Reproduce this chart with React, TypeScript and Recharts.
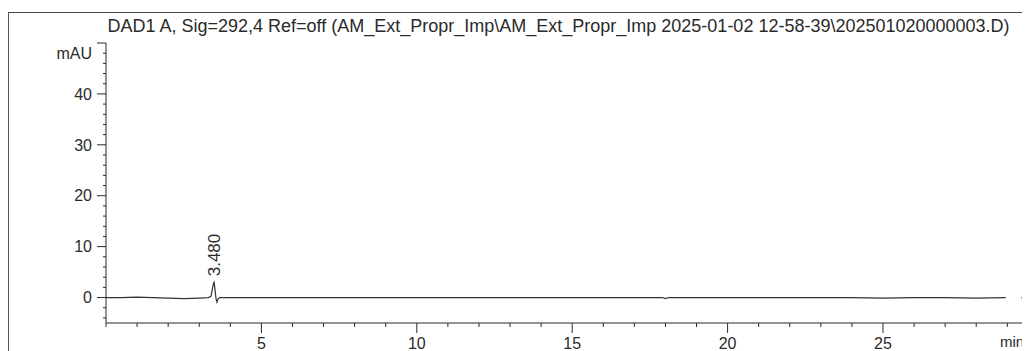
import React from "react";
import { ComposedChart, Line, XAxis, YAxis } from "recharts";

const title =
  "DAD1 A, Sig=292,4 Ref=off (AM_Ext_Propr_Imp\\AM_Ext_Propr_Imp 2025-01-02 12-58-39\\202501020000003.D)";

const time = [
  0, 0.5, 1.0, 1.5, 2.0, 2.5, 3.0, 3.3, 3.38, 3.42, 3.46, 3.48, 3.51, 3.54, 3.57, 3.6, 3.66, 4.0,
  5.0, 6.0, 8.0, 10.0, 12.0, 14.0, 16.0, 17.9, 18.0, 18.1, 20.0, 22.0, 24.0, 25.0, 26.0, 27.0,
  28.0, 28.95, 29.2, 29.45, 29.73,
];
const signal: (number | null)[] = [
  0, 0, 0.1, 0.0, -0.1, -0.2, -0.1, 0, 0.3, 1.6, 2.8, 3.0, 1.4, -0.2, -0.9, -0.3, 0, 0, 0, 0,
  0, 0, 0, 0, 0, 0, -0.2, 0, 0, 0, 0, -0.1, 0, 0, -0.1, 0, null, 0, 0,
];

const peakTimes = [3.48];
const peakLabels = ["3.480"];

const xTicks = [0, 1, 2, 3, 4, 5, 6, 7, 8, 9, 10, 11, 12, 13, 14, 15, 16, 17, 18, 19, 20, 21, 22, 23, 24, 25, 26, 27, 28, 29];
const xLabelTicks = [5, 10, 15, 20, 25];
const yTicks = [-4, -2, 0, 2, 4, 6, 8, 10, 12, 14, 16, 18, 20, 22, 24, 26, 28, 30, 32, 34, 36, 38, 40, 42, 44, 46, 48, 50];
const yLabelTicks = [0, 10, 20, 30, 40];
const yUnitTick = 48;
const yUnit = "mAU";
const xUnit = "min";

const rows = time.map((t, i) => ({ t, v: signal[i] }));

const FONT = "'Liberation Sans', Arial, sans-serif";
const INK = "#2a2a2a";

const XTick = (props: any) => {
  const { x, y, payload } = props;
  const major = xLabelTicks.includes(payload.value);
  return (
    <g>
      <line x1={x} y1={y} x2={x} y2={y + (major ? 10 : 4)} stroke={INK} strokeWidth={1} />
      {major && (
        <text x={x} y={y + 26} textAnchor="middle" fontSize={16} fontFamily={FONT} fill={INK}>
          {payload.value}
        </text>
      )}
    </g>
  );
};

const YTick = (props: any) => {
  const { x, y, payload } = props;
  const major = yLabelTicks.includes(payload.value) || payload.value === 50;
  const isUnit = payload.value === yUnitTick;
  const label = yLabelTicks.includes(payload.value) ? String(payload.value) : isUnit ? yUnit : null;
  return (
    <g>
      <line x1={x} y1={y} x2={x - (major ? 9 : 3)} y2={y} stroke={INK} strokeWidth={1} />
      {label && (
        <text x={x - 14} y={y} dy="0.36em" textAnchor="end" fontSize={16} fontFamily={FONT} fill={INK}>
          {label}
        </text>
      )}
    </g>
  );
};

const PeakLabel = (props: any) => {
  const { x, y, index } = props;
  const k = peakTimes.indexOf(time[index]);
  if (k < 0) return null;
  return (
    <text
      x={x}
      y={y - 6}
      transform={`rotate(-90 ${x} ${y - 6})`}
      dy="0.36em"
      textAnchor="start"
      fontSize={17}
      fontFamily={FONT}
      fill={INK}
    >
      {peakLabels[k]}
    </text>
  );
};

export default function App() {
  return (
    <div style={{ position: "relative", width: 1022, height: 343, background: "#fff", overflow: "hidden" }}>
      <div style={{ position: "absolute", left: 0, top: 4, width: 1022, height: 1, background: "#444" }} />
      <div style={{ position: "absolute", left: 0, top: 4, width: 1, height: 339, background: "#555" }} />
      <ComposedChart
        width={1022}
        height={343}
        data={rows}
        margin={{ top: 35, right: 0, bottom: 0, left: 0 }}
      >
        <XAxis
          dataKey="t"
          type="number"
          domain={[0, 29.73]}
          ticks={xTicks}
          interval={0}
          allowDataOverflow
          height={28}
          tickSize={0}
          tickMargin={0}
          tickLine={false}
          axisLine={{ stroke: INK, strokeWidth: 1.2 }}
          tick={<XTick />}
        />
        <YAxis
          type="number"
          domain={[-5, 50]}
          ticks={yTicks}
          interval={0}
          allowDataOverflow
          width={98}
          tickSize={0}
          tickMargin={0}
          tickLine={false}
          axisLine={{ stroke: INK, strokeWidth: 1 }}
          tick={<YTick />}
        />
        <Line
          dataKey="v"
          type="linear"
          stroke="#333"
          strokeWidth={1.2}
          dot={false}
          connectNulls={false}
          isAnimationActive={false}
          label={<PeakLabel />}
        />
      </ComposedChart>
      <svg
        width={1022}
        height={343}
        style={{ position: "absolute", left: 0, top: 0, pointerEvents: "none" }}
      >
        <text x={550.5} y={23.7} textAnchor="middle" fontSize={18} fontFamily={FONT} fill={INK}>
          {title}
        </text>
        <text x={992} y={339} textAnchor="start" fontSize={15} fontFamily={FONT} fill={INK}>
          {xUnit}
        </text>
      </svg>
    </div>
  );
}
